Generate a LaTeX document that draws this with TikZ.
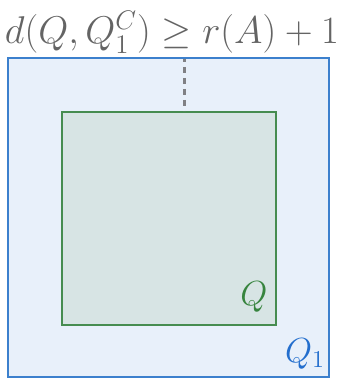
\documentclass[tikz,border=0pt]{standalone}
\begin{document}
\begin{tikzpicture}[x=1pt,y=-1pt,
  outerbox/.style={draw=outerblue,fill=outerfill,line width=2.2pt},
  innerbox/.style={draw=innergreen,fill=innerfill,line width=2.6pt},
  lbl/.style={inner sep=0pt}]
\definecolor{outerblue}{RGB}{60,128,205}
\definecolor{outerfill}{RGB}{232,240,250}
\definecolor{innergreen}{RGB}{70,140,80}
\definecolor{qgreen}{RGB}{55,132,62}
\definecolor{qblue}{RGB}{35,110,205}
\definecolor{innerfill}{RGB}{215,228,228}
\definecolor{txtgray}{RGB}{100,100,100}
\definecolor{dashgray}{RGB}{128,128,132}
\useasboundingbox (0,0) rectangle (345,379);
\draw[outerbox] (8,58) rectangle (329,377);
\draw[innerbox] (62,112) rectangle (276,325);
\coordinate (top) at (184,59);
\coordinate (bot) at (184,111);
\draw[dashgray,line width=3pt,dash pattern=on 6pt off 5pt,dash phase=3pt] (top) -- (bot);
\node[lbl,text=txtgray,anchor=base] (eq) at (172,44) {\resizebox{334pt}{!}{\huge$d(Q,Q_1^C)\geq r(A)+1$}};
\node[lbl,text=qgreen,anchor=base] (q) at (254,305) {\scalebox{1.68}{\huge$Q$}};
\node[lbl,text=qblue,anchor=base] (q1) at (305,362) {\scalebox{1.68}{\huge$Q_1$}};
\end{tikzpicture}
\end{document}
